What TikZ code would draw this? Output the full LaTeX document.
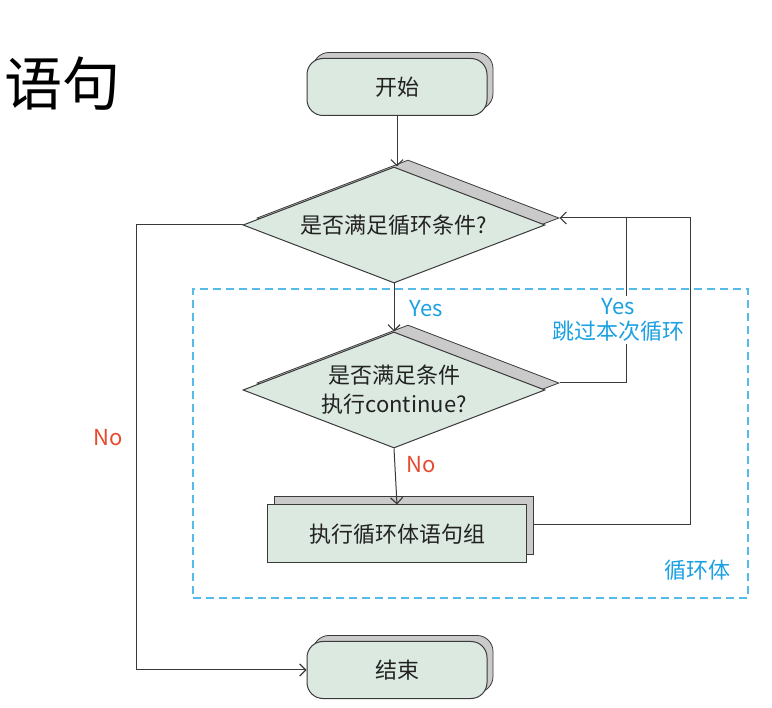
\documentclass[tikz,border=0pt]{standalone}
\usepackage{fontspec}
\setmainfont{Noto Sans CJK SC}
\usetikzlibrary{shapes.geometric,shadows,arrows.meta}
\definecolor{boxfill}{HTML}{DCE9E1}
\definecolor{sidegray}{HTML}{CACACA}
\definecolor{edge}{HTML}{3A3A3A}
\definecolor{txt}{HTML}{222222}
\definecolor{loopblue}{HTML}{1BA1E2}
\definecolor{nored}{HTML}{E64A2E}
\definecolor{dashblue}{HTML}{55BBE8}
\begin{document}
\begin{tikzpicture}[x=1pt,y=-1pt,
  every node/.style={font=\fontsize{22}{28}\selectfont, text=txt},
  solid3d/.style={draw=edge, line width=1pt, fill=boxfill},
  termbox/.style={solid3d, rounded corners=16pt, minimum width=180pt, minimum height=57pt, inner sep=0pt,
    copy shadow={shadow xshift=6pt, shadow yshift=6pt, fill=sidegray, draw=edge, line width=0.8pt}},
  decbox/.style={solid3d, diamond, aspect=2.6, minimum width=302pt, minimum height=116pt, inner sep=0pt, align=center,
    copy shadow={shadow xshift=14pt, shadow yshift=7pt, fill=sidegray, draw=edge, line width=0.8pt}},
  procbox/.style={solid3d, minimum width=259pt, minimum height=58pt, inner sep=0pt,
    copy shadow={shadow xshift=7pt, shadow yshift=9pt, fill=sidegray, draw=edge, line width=0.8pt}},
  flow/.style={draw=edge, line width=1pt, -{Straight Barb[length=6pt,width=12pt,line width=1.2pt]}},
  conn/.style={draw=edge, line width=1pt},
  bluelabel/.style={text=loopblue, align=center, font=\fontsize{22}{28}\selectfont},
  redlabel/.style={text=nored, font=\fontsize{22}{28}\selectfont},
  loopframe/.style={draw=dashblue, line width=1.3pt, dash pattern=on 8pt off 5pt, minimum width=555pt, minimum height=309pt, inner sep=0pt},
]
\fill[white] (0,0) rectangle (772,708);
\useasboundingbox (0,0) rectangle (772,708);

\node[font=\fontsize{58}{64}\selectfont, text=black] (title) at (63,84) {语句};

\node[loopframe] (loop) at (470.5,443.5) {};
\node[bluelabel] (looplabel) at (697,570) {循环体};

\node[termbox] (start) at (397,87) {开始};
\node[decbox] (d1) at (394,225) {是否满足循环条件?};
\node[decbox, font=\fontsize{22}{29}\selectfont] (d2) at (394,390) {是否满足条件\\执行continue?};
\node[procbox] (proc) at (397,534) {执行循环体语句组};
\node[termbox] (stop) at (397,670) {结束};

\draw[flow] (start.south) -- (start.south |- d1.north);
\draw[flow] (d1.south) -- (d2.north);
\node[bluelabel] (yes1) at (426,309) {Yes};
\draw[flow] (d2.south) -- (proc.north);
\node[redlabel] (no2) at (421,465) {No};

\coordinate (r1) at (690,525);
\coordinate (j1) at (626,218);
\draw[flow] ([shift={(7,-9)}]proc.east) -- (r1) |- ([shift={(14,-7)}]d1.east);
\draw[conn] ([shift={(14,-7)}]d2.east) -| (j1);
\node[bluelabel, fill=white, inner sep=2pt] (yes2) at (618,320) {Yes\\[-3pt]跳过本次循环};

\coordinate (l1) at (136,225);
\draw[flow] (d1.west) -- (l1) |- (stop.west);
\node[redlabel] (no1) at (108,438) {No};
\end{tikzpicture}
\end{document}
